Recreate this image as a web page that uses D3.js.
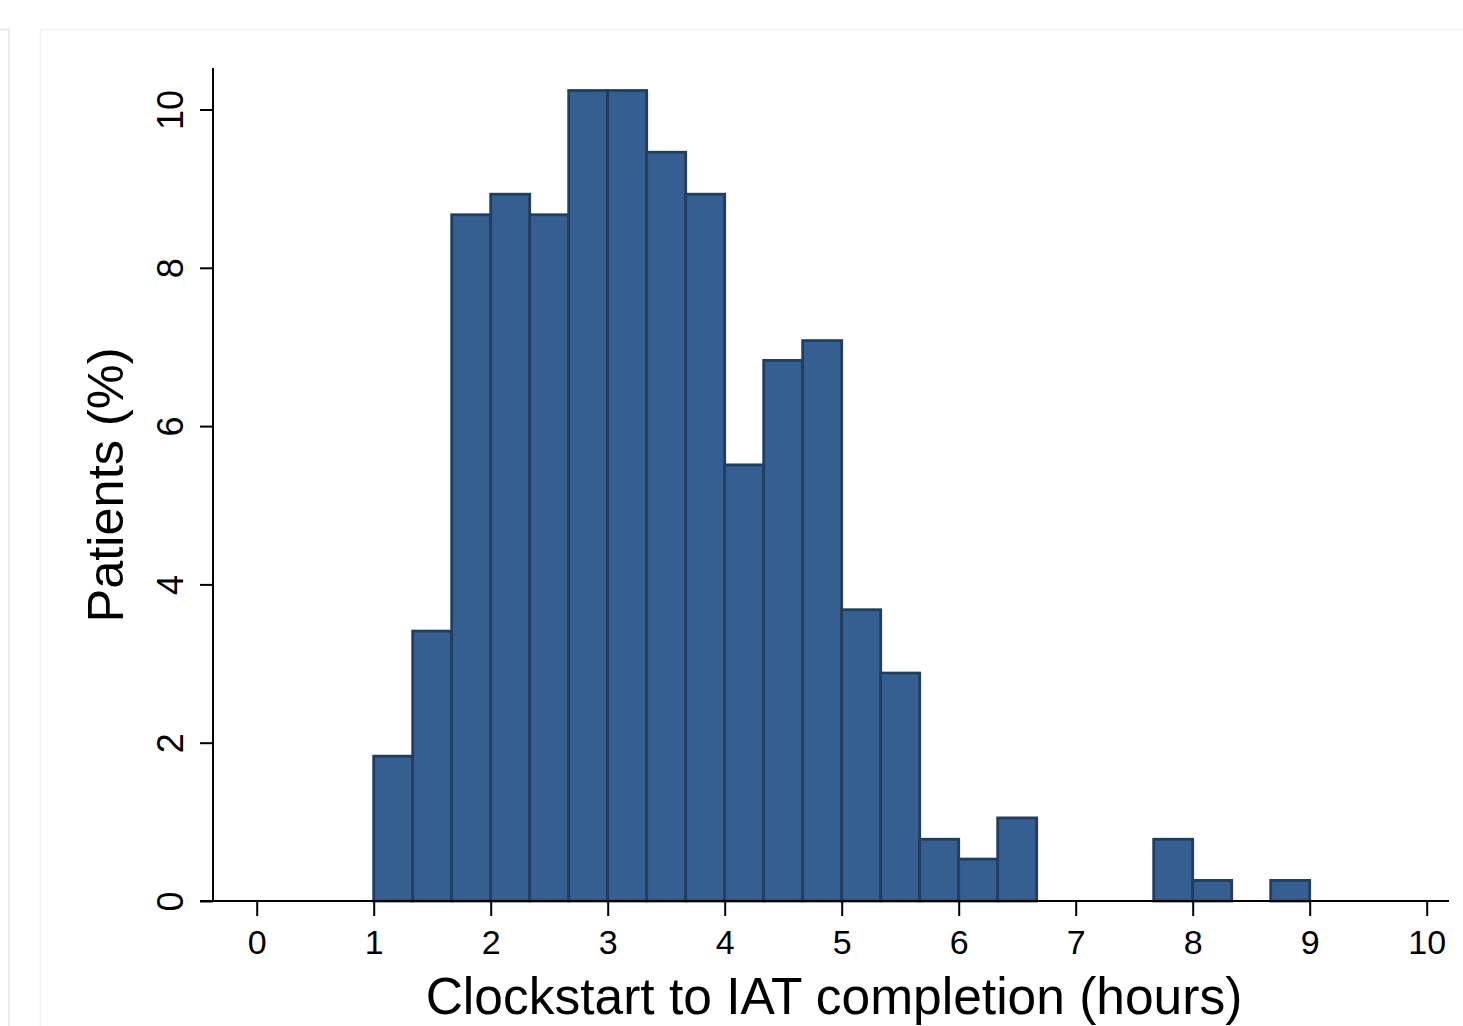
<!DOCTYPE html>
<html>
<head>
<meta charset="utf-8">
<script src="https://cdn.jsdelivr.net/npm/d3@7"></script>
<style>
  html, body { margin: 0; padding: 0; background: #fff; }
  svg { display: block; font-family: "Liberation Sans", Arial, sans-serif; }
</style>
</head>
<body>
<svg id="chart" width="1463" height="1026"></svg>
<script>
// histogram of clockstart -> IAT completion, bins of 1/3 hour starting at 1h
var binStart = 1
var binWidth = 1 / 3
var percents = [1.83, 3.41, 8.67, 8.93, 8.67, 10.24, 10.24, 9.46, 8.93,
                5.51, 6.83, 7.08, 3.68, 2.88, 0.78, 0.53, 1.05, 0, 0, 0,
                0.78, 0.26, 0, 0.26]
var xTicks = [0, 1, 2, 3, 4, 5, 6, 7, 8, 9, 10]
var yTicks = [0, 2, 4, 6, 8, 10]
var xTitle = 'Clockstart to IAT completion (hours)'
var yTitle = 'Patients (%)'

var svg = d3.select('#chart')

// faint page frames behind the graph
svg.append('rect')
  .attr('x', -20).attr('y', 29.5).attr('width', 29).attr('height', 1100)
  .attr('fill', 'none').attr('stroke', '#e6ecf1').attr('stroke-width', 2)
svg.append('rect')
  .attr('x', 40.5).attr('y', 29.5).attr('width', 1500).attr('height', 1100)
  .attr('fill', '#fff').attr('stroke', '#eef1f3').attr('stroke-width', 1.5)

var x = d3.scaleLinear().domain([0, 10]).range([256.7, 1426.7])
var y = d3.scaleLinear().domain([0, 10]).range([901, 109.5])

var bins = percents.map(function(p, i) {
  return { x0: binStart + i * binWidth, x1: binStart + (i + 1) * binWidth, v: p }
}).filter(function(d) { return d.v > 0 })

svg.selectAll('.bar')
  .data(bins)
  .enter().append('rect')
  .attr('class', 'bar')
  .attr('x', function(d) { return x(d.x0) })
  .attr('y', function(d) { return y(d.v) })
  .attr('width', function(d) { return x(d.x1) - x(d.x0) })
  .attr('height', function(d) { return y(0) - y(d.v) })
  .attr('fill', '#365f91')
  .attr('stroke', '#233d5e')
  .attr('stroke-width', 2.8)

// x axis
var xAxis = svg.append('g')
  .attr('transform', 'translate(0,901)')
  .call(d3.axisBottom(x).tickValues(xTicks).tickSize(15).tickPadding(14).tickFormat(d3.format('d')))
xAxis.select('.domain').remove()
xAxis.append('line')
  .attr('x1', 200).attr('x2', 1449).attr('y1', 0).attr('y2', 0)
  .attr('stroke', '#000').attr('stroke-width', 2)
xAxis.selectAll('.tick line').attr('stroke', '#000').attr('stroke-width', 2)
xAxis.selectAll('.tick text')
  .attr('fill', '#000')
  .style('font-size', '34px')
  .style('font-family', '"Liberation Sans", Arial, sans-serif')

// y axis
var yAxis = svg.append('g')
  .attr('transform', 'translate(213,0)')
  .call(d3.axisLeft(y).tickValues(yTicks).tickSize(13).tickFormat(d3.format('d')))
yAxis.select('.domain').remove()
yAxis.append('line')
  .attr('x1', 0).attr('x2', 0).attr('y1', 68).attr('y2', 902)
  .attr('stroke', '#000').attr('stroke-width', 2)
yAxis.selectAll('.tick line').attr('stroke', '#000').attr('stroke-width', 2)
yAxis.selectAll('.tick text')
  .attr('fill', '#000')
  .attr('x', null).attr('dy', null)
  .attr('text-anchor', 'middle')
  .attr('transform', 'translate(-30,0) rotate(-90)')
  .style('font-size', '36px')
  .style('font-family', '"Liberation Sans", Arial, sans-serif')

// titles
svg.append('text')
  .attr('x', 834).attr('y', 1014)
  .attr('text-anchor', 'middle')
  .style('font-size', '51.5px')
  .text(xTitle)

svg.append('text')
  .attr('transform', 'translate(123,485) rotate(-90)')
  .attr('text-anchor', 'middle')
  .style('font-size', '50.5px')
  .text(yTitle)
</script>
</body>
</html>
